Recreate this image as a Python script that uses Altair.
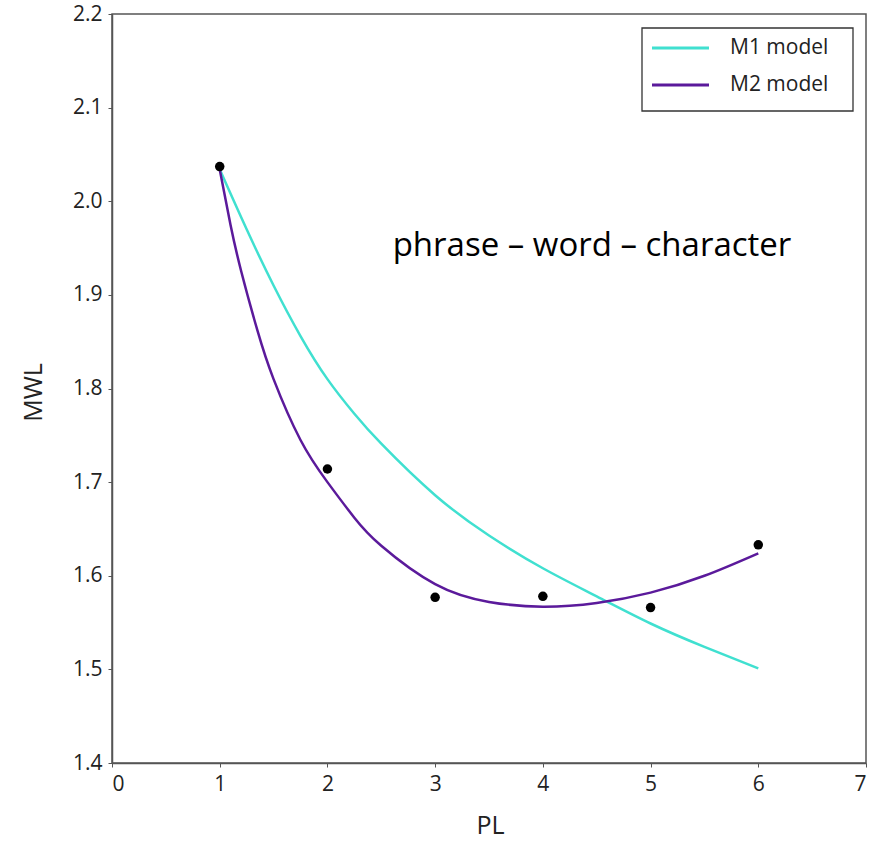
import altair as alt
import pandas as pd

# Observed mean word length (MWL) at each phrase length (PL)
pl_obs = [1, 2, 3, 4, 5, 6]
mwl_obs = [2.037, 1.714, 1.577, 1.578, 1.566, 1.633]

# M1 model curve
m1_pl = [1.0, 1.25, 1.5, 1.75, 2.0, 2.25, 2.5, 3.0, 3.5, 4.0, 4.5, 5.0, 5.5, 6.0]
m1_mwl = [2.034, 1.970, 1.910, 1.856, 1.810, 1.773, 1.741, 1.686, 1.643, 1.608, 1.578, 1.549, 1.524, 1.501]

# M2 model curve
m2_pl = [1.0, 1.1, 1.2, 1.35, 1.5, 1.75, 2.0, 2.25, 2.5, 3.0, 3.5, 4.0, 4.5, 5.0, 5.5, 6.0]
m2_mwl = [2.034, 1.975, 1.925, 1.862, 1.810, 1.745, 1.700, 1.662, 1.632, 1.591, 1.572, 1.567, 1.571, 1.582, 1.600, 1.624]

series_names = ["M1 model", "M2 model"]
series_colors = ["#40E0D0", "#5B1A9B"]

points = pd.DataFrame({"PL": pl_obs, "MWL": mwl_obs})
curves = pd.concat([
    pd.DataFrame({"PL": m1_pl, "MWL": m1_mwl, "model": series_names[0]}),
    pd.DataFrame({"PL": m2_pl, "MWL": m2_mwl, "model": series_names[1]}),
])
single = pd.DataFrame({"k": [0]})

FONT = "Open Sans"

x_enc = alt.X(
    "PL:Q",
    scale=alt.Scale(domain=[0, 7], nice=False),
    axis=alt.Axis(values=[0, 1, 2, 3, 4, 5, 6, 7], format="d", title="PL", titleX=378, titleY=62,
                  titleBaseline="middle"),
)
y_enc = alt.Y(
    "MWL:Q",
    scale=alt.Scale(domain=[1.4, 2.2], nice=False, zero=False),
    axis=alt.Axis(values=[1.4, 1.5, 1.6, 1.7, 1.8, 1.9, 2.0, 2.1, 2.2], format=".1f",
                  title="MWL", titleX=-79, titleY=378, titleAngle=-90,
                  titleBaseline="middle", titleAlign="center"),
)

lines = alt.Chart(curves).mark_line(interpolate="natural", strokeWidth=2.5).encode(
    x=x_enc,
    y=y_enc,
    color=alt.Color(
        "model:N",
        scale=alt.Scale(domain=series_names, range=series_colors),
        legend=None,
    ),
    detail="model:N",
)

dots = alt.Chart(points).mark_circle(size=90, color="black", opacity=1).encode(
    x="PL:Q",
    y="MWL:Q",
)

note = alt.Chart(single).mark_text(
    text="phrase – word – character",
    font=FONT,
    fontSize=33,
    color="black",
    align="center",
    baseline="middle",
).encode(x=alt.value(480), y=alt.value(232))

# Legend box in the upper-right corner
legend_box = alt.Chart(single).mark_rect(
    fill="white", stroke="#333333", strokeWidth=1.3
).encode(x=alt.value(530), x2=alt.value(741), y=alt.value(14), y2=alt.value(97))

legend_layers = [legend_box]
row_y = [34, 71]
for name, colour, yy in zip(series_names, series_colors, row_y):
    legend_layers.append(
        alt.Chart(single).mark_rule(color=colour, strokeWidth=3).encode(
            x=alt.value(540), x2=alt.value(597), y=alt.value(yy)
        )
    )
    legend_layers.append(
        alt.Chart(single).mark_text(
            text=name, font=FONT, fontSize=21, color="#222222", align="left", baseline="middle"
        ).encode(x=alt.value(618), y=alt.value(yy))
    )

chart = (
    alt.layer(lines, dots, note, *legend_layers)
    .properties(
        width=754,
        height=749,
        autosize=alt.AutoSizeParams(type="none"),
        padding={"left": 112, "top": 14, "right": 10, "bottom": 82},
        background="white",
    )
    .configure_view(stroke="#555555", strokeWidth=1.5)
    .configure_axis(
        grid=False,
        domainColor="#555555",
        domainWidth=1.5,
        tickColor="#555555",
        tickSize=4,
        labelFont=FONT,
        labelFontSize=21,
        labelColor="#222222",
        labelPadding=6,
        titleFont=FONT,
        titleFontSize=25,
        titleFontWeight="normal",
        titleColor="#222222",
    )
)

chart.save("out.html", embed_options={"renderer": "svg", "actions": False})
